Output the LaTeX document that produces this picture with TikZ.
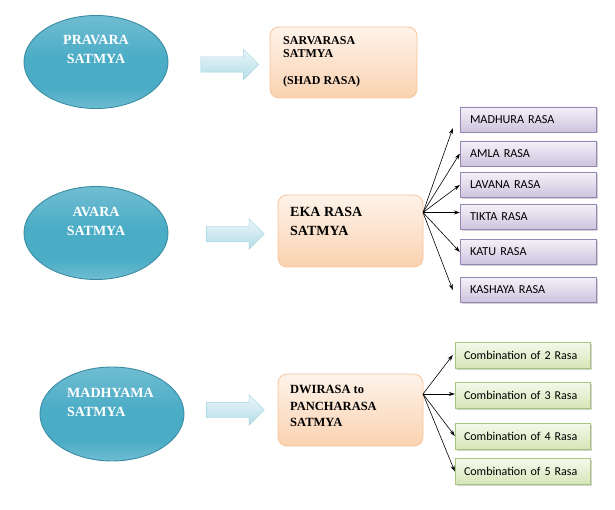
\documentclass[tikz,border=0pt]{standalone}
\usepackage{fontspec}
\setmainfont{Liberation Serif}
\newfontfamily\calibri{Carlito}
\usetikzlibrary{shapes.geometric}
\usetikzlibrary{shapes.arrows}
\usetikzlibrary{shadows}
\usetikzlibrary{arrows.meta}
\usepackage{xcolor}

\definecolor{tealmid}{HTML}{4BACC6}
\definecolor{teallight}{HTML}{98D0DF}
\definecolor{tealedge}{HTML}{3A8CA2}
\definecolor{skytop}{HTML}{EAF6F9}
\definecolor{skybot}{HTML}{B4DDE8}
\definecolor{skyedge}{HTML}{9FD0DE}
\definecolor{peachtop}{HTML}{FEF3EA}
\definecolor{peachbot}{HTML}{FAD2B0}
\definecolor{peachedge}{HTML}{F8C49A}
\definecolor{lilactop}{HTML}{F4F1F8}
\definecolor{lilacbot}{HTML}{CDC3DE}
\definecolor{lilacedge}{HTML}{9686B4}
\definecolor{limetop}{HTML}{F5F9EC}
\definecolor{limebot}{HTML}{D6E5B8}
\definecolor{limeedge}{HTML}{A9C47C}

% vertical shading for the ellipses, bottom (0bp) to top (100bp)
\pgfdeclareverticalshading{tealband}{100bp}{color(0bp)=(teallight); color(12bp)=(teallight);
  color(36bp)=(tealmid); color(52bp)=(tealmid); color(100bp)=(teallight)}

\tikzset{
  satmya/.style={ellipse, draw=tealedge, line width=0.9pt, shading=tealband,
    minimum width=144pt, minimum height=93pt, inner sep=0pt},
  satmyatext/.style={text=white, font=\fontsize{14}{19}\selectfont\bfseries, inner sep=0pt},
  bigarrow/.style={single arrow, draw=skyedge, top color=skytop, bottom color=skybot,
    minimum height=58pt, inner sep=7.5pt, single arrow head extend=7.5pt},
  rasabox/.style={rounded corners=9pt, draw=peachedge, line width=0.8pt, top color=peachtop,
    bottom color=peachbot, minimum width=146pt, minimum height=72pt, inner sep=0pt},
  rasatext/.style={align=left, inner sep=0pt, font=\bfseries},
  tastebox/.style={draw=lilacedge, top color=lilactop, bottom color=lilacbot,
    drop shadow={shadow xshift=1.5pt, shadow yshift=-1.5pt, opacity=0.35},
    minimum height=25pt, text width=116pt, inner xsep=10pt, align=left,
    font=\calibri\fontsize{12.2}{14}\selectfont},
  combobox/.style={draw=limeedge, top color=limetop, bottom color=limebot,
    drop shadow={shadow xshift=1.5pt, shadow yshift=-1.5pt, opacity=0.35},
    minimum height=26pt, text width=117pt, inner xsep=9pt, align=left,
    font=\calibri\fontsize{12}{14}\selectfont},
  link/.style={-{Stealth[length=6pt,width=4pt]}, line width=0.6pt}
}

\begin{document}
\begin{tikzpicture}[x=1pt, y=-1pt]
\useasboundingbox (0,0) rectangle (615,510);

%%%%%% PRAVARA %%%%%%
\node[satmya] (pravara) at (96,62) {};
\node[satmyatext, align=center, anchor=north] (pravaraT) at (96,35) {PRAVARA\\SATMYA};
\node[bigarrow] (arrowA) at (226,64.5) {};
\node[rasabox, minimum width=147pt, minimum height=71pt] (sarva) at (343.5,62.5) {};
\node[rasatext, anchor=north west, font=\fontsize{12}{13.5}\selectfont\bfseries] (sarvaT) at (283,36)
  {SARVARASA\\SATMYA\\[13.5pt](SHAD RASA)};

%%%%%% AVARA %%%%%%
\node[satmya] (avara) at (96,233) {};
\node[satmyatext, align=center, anchor=north] (avaraT) at (96,207) {AVARA\\SATMYA};
\node[bigarrow] (arrowB) at (231.5,234) {};
\node[rasabox, minimum width=145pt] (eka) at (350.5,231) {};
\node[rasatext, anchor=north west, font=\fontsize{14}{19}\selectfont\bfseries] (ekaT) at (290,207)
  {EKA RASA\\SATMYA};
\coordinate (ekaout) at (423,212.5);

% six rasa
\node[tastebox] (madhura) at (528,119.5) {MADHURA RASA};
\node[tastebox] (amla) at (528,153.5) {AMLA RASA};
\node[tastebox] (lavana) at (528,185) {LAVANA RASA};
\node[tastebox] (tikta) at (528,217) {TIKTA RASA};
\node[tastebox] (katu) at (528,252) {KATU RASA};
\node[tastebox] (kashaya) at (528,290) {KASHAYA RASA};

\draw[link] (ekaout) -- ([xshift=-7pt,yshift=4pt]madhura.south west);
\draw[link] (ekaout) -- (amla.west);
\draw[link] (ekaout) -- (lavana.west);
\draw[link] (ekaout) -- (ekaout -| tikta.west);
\draw[link] (ekaout) -- (katu.west);
\draw[link] (ekaout) -- ([xshift=-7pt]kashaya.west);

%%%%%% MADHYAMA %%%%%%
\node[satmya, minimum height=94pt] (madhyama) at (112,414) {};
\node[satmyatext, align=left, anchor=north west] (madhyamaT) at (67,388) {MADHYAMA\\SATMYA};
\node[bigarrow] (arrowC) at (231.5,410) {};
\node[rasabox, minimum width=145pt] (dwi) at (350.5,410) {};
\node[rasatext, anchor=north west, font=\fontsize{12.5}{16.5}\selectfont\bfseries] (dwiT) at (290,385.5)
  {DWIRASA to\\PANCHARASA\\SATMYA};
\coordinate (dwiout) at (423,394);

% combinations
\node[combobox] (combo2) at (522.5,355) {Combination of 2 Rasa};
\node[combobox] (combo3) at (522.5,395) {Combination of 3 Rasa};
\node[combobox] (combo4) at (522.5,436) {Combination of 4 Rasa};
\node[combobox] (combo5) at (522.5,471.5) {Combination of 5 Rasa};

\draw[link] (dwiout) -- ([xshift=-2pt]combo2.west);
\draw[link] (dwiout) -- (dwiout -| combo3.west);
\draw[link] (dwiout) -- (combo4.west);
\draw[link] (dwiout) -- (combo5.west);

\end{tikzpicture}
\end{document}
